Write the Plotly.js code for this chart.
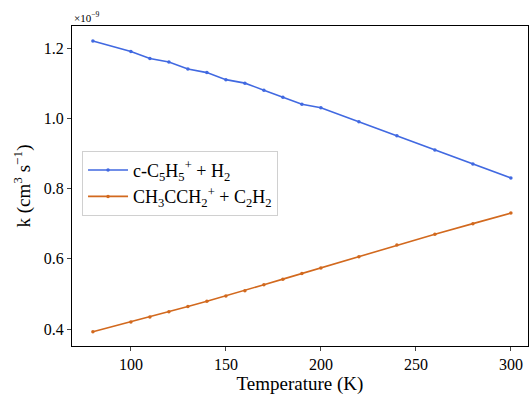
<!DOCTYPE html>
<html>
<head>
<meta charset="utf-8">
<script src="https://cdn.plot.ly/plotly-3.0.1.min.js"></script>
<style>html,body{margin:0;padding:0;background:#fff;}#chart{width:531px;height:396px;}</style>
</head>
<body>
<div id="chart"></div>
<script>
const temperature = [80, 100, 110, 120, 130, 140, 150, 160, 170, 180, 190, 200, 220, 240, 260, 280, 300];
const kC5H5 = [1.22, 1.19, 1.17, 1.16, 1.14, 1.13, 1.11, 1.10, 1.08, 1.06, 1.04, 1.03, 0.99, 0.95, 0.91, 0.87, 0.83];
const kCH3CCH2 = [0.392, 0.42, 0.434, 0.449, 0.464, 0.479, 0.494, 0.509, 0.526, 0.542, 0.558, 0.574, 0.606, 0.639, 0.670, 0.700, 0.730];
const seriesNames = ["c-C<sub>5</sub>H<sub>5</sub><sup>+</sup> + H<sub>2</sub>", "CH<sub>3</sub>CCH<sub>2</sub><sup>+</sup> + C<sub>2</sub>H<sub>2</sub>"];
const yTicks = [0.4, 0.6, 0.8, 1.0, 1.2];
const yTickText = ["0.4", "0.6", "0.8", "1.0", "1.2"];
const xTicks = [100, 150, 200, 250, 300];

const font = "Liberation Serif";
const traces = [
  {x: temperature, y: kC5H5, name: seriesNames[0], mode: "lines+markers",
   line: {color: "#4169e1", width: 1.6}, marker: {color: "#4169e1", size: 3.5}},
  {x: temperature, y: kCH3CCH2, name: seriesNames[1], mode: "lines+markers",
   line: {color: "#d2691e", width: 1.6}, marker: {color: "#d2691e", size: 3.5}}
];
const layout = {
  width: 531, height: 396,
  margin: {l: 72, r: 3, t: 26, b: 50},
  paper_bgcolor: "#fff", plot_bgcolor: "#fff",
  font: {family: font, size: 16, color: "#000"},
  showlegend: true,
  legend: {x: 0.022, y: 0.61, xanchor: "left", yanchor: "top",
    bgcolor: "rgba(255,255,255,0.8)", bordercolor: "#d0d0d0", borderwidth: 1,
    font: {family: font, size: 18, color: "#000"}, tracegroupgap: 0, itemwidth: 40},
  xaxis: {range: [69, 309], tickvals: xTicks, ticks: "outside", ticklen: 4, tickwidth: 1,
    showline: true, linecolor: "#000", linewidth: 1, mirror: true, showgrid: false, zeroline: false,
    tickfont: {family: font, size: 16, color: "#000"},
    title: {text: "Temperature (K)", font: {family: font, size: 19, color: "#000"}, standoff: 4}},
  yaxis: {range: [0.3516, 1.2627], tickvals: yTicks, ticktext: yTickText, ticks: "outside", ticklen: 4, tickwidth: 1,
    showline: true, linecolor: "#000", linewidth: 1, mirror: true, showgrid: false, zeroline: false,
    tickfont: {family: font, size: 16, color: "#000"},
    title: {text: "k (cm<sup>3</sup> s<sup>−1</sup>)", font: {family: font, size: 19, color: "#000"}, standoff: 8}},
  annotations: [{text: "×10<sup>−9</sup>", xref: "paper", yref: "paper", x: 0, y: 1, xanchor: "left", yanchor: "bottom",
    showarrow: false, font: {family: font, size: 11, color: "#000"}}]
};
Plotly.newPlot("chart", traces, layout, {displayModeBar: false, staticPlot: true});
</script>
</body>
</html>
